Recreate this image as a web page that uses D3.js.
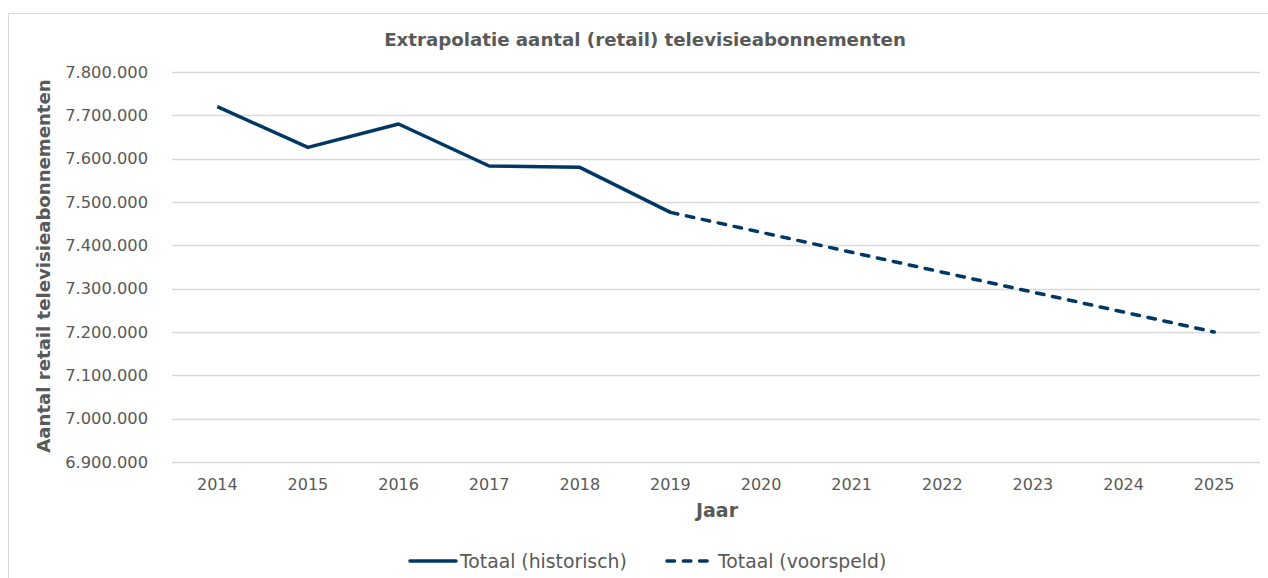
<!DOCTYPE html>
<html>
<head>
<meta charset="utf-8">
<script src="https://cdn.jsdelivr.net/npm/d3@7"></script>
<style>
  html, body { margin: 0; padding: 0; background: #fff; }
  svg { display: block; font-family: "DejaVu Sans", Verdana, sans-serif; }
</style>
</head>
<body>
<svg id="chart" width="1268" height="578"></svg>
<script>
// ---- Data ----
const titleText = "Extrapolatie aantal (retail) televisieabonnementen";
const yAxisTitle = "Aantal retail televisieabonnementen";
const xAxisTitle = "Jaar";
const years = ["2014","2015","2016","2017","2018","2019","2020","2021","2022","2023","2024","2025"];
const historicYears = ["2014","2015","2016","2017","2018","2019"];
const historicValues = [7720000, 7626000, 7680000, 7583000, 7580000, 7476000];
const forecastYears = ["2019","2020","2021","2022","2023","2024","2025"];
const forecastValues = [7476000, 7430000, 7384000, 7338000, 7292000, 7246000, 7200000];
const yTicks = [6900000, 7000000, 7100000, 7200000, 7300000, 7400000, 7500000, 7600000, 7700000, 7800000];
const seriesNames = ["Totaal (historisch)", "Totaal (voorspeld)"];

// ---- Styles ----
const navy = "#003865";
const textGray = "#595959";
const gridGray = "#d9d9d9";

const svg = d3.select("#chart");

// outer border
svg.append("rect")
  .attr("x", 8.5).attr("y", 13.5)
  .attr("width", 1300).attr("height", 600)
  .attr("fill", "none").attr("stroke", gridGray).attr("stroke-width", 1);

const x = d3.scaleBand().domain(years).range([172, 1259.5]);
const xc = d => x(d) + x.bandwidth() / 2;
const y = d3.scaleLinear().domain([6900000, 7800000]).range([462, 72]);

const nl = d3.formatLocale({decimal: ",", thousands: ".", grouping: [3], currency: ["€", ""]});
const fmt = nl.format(",d");

// gridlines
svg.append("g").selectAll("line").data(yTicks).join("line")
  .attr("x1", 172).attr("x2", 1260)
  .attr("y1", d => Math.round(y(d)) + 0.5).attr("y2", d => Math.round(y(d)) + 0.5)
  .attr("stroke", gridGray).attr("stroke-width", 1.3);

// y tick labels
svg.append("g").selectAll("text").data(yTicks).join("text")
  .attr("x", 148).attr("y", d => y(d))
  .attr("dy", "0.35em")
  .attr("text-anchor", "end")
  .attr("font-size", 16.3).attr("fill", textGray)
  .text(d => fmt(d));

// x tick labels
svg.append("g").selectAll("text").data(years).join("text")
  .attr("x", d => xc(d)).attr("y", 490)
  .attr("text-anchor", "middle")
  .attr("font-size", 16).attr("fill", textGray)
  .text(d => d);

// title
svg.append("text")
  .attr("x", 645).attr("y", 46)
  .attr("text-anchor", "middle")
  .attr("font-size", 18.2).attr("font-weight", "bold").attr("fill", textGray)
  .text(titleText);

// axis titles
svg.append("text")
  .attr("transform", "translate(50,266) rotate(-90)")
  .attr("text-anchor", "middle")
  .attr("font-size", 18.1).attr("font-weight", "bold").attr("fill", textGray)
  .text(yAxisTitle);

svg.append("text")
  .attr("x", 717).attr("y", 517)
  .attr("text-anchor", "middle")
  .attr("font-size", 19).attr("font-weight", "bold").attr("fill", textGray)
  .text(xAxisTitle);

// lines
const line = d3.line().x(d => xc(d[0])).y(d => y(d[1]));

svg.append("path")
  .datum(d3.zip(forecastYears, forecastValues))
  .attr("d", line)
  .attr("fill", "none").attr("stroke", navy).attr("stroke-width", 3.5)
  .attr("stroke-linecap", "round")
  .attr("stroke-dasharray", "7.5,8.8");

svg.append("path")
  .datum(d3.zip(historicYears, historicValues))
  .attr("d", line)
  .attr("fill", "none").attr("stroke", navy).attr("stroke-width", 3.5)
  .attr("stroke-linejoin", "round");

// legend
const legY = 561;
const lg = svg.append("g");
lg.append("line").attr("x1", 410).attr("x2", 456).attr("y1", legY).attr("y2", legY)
  .attr("stroke", navy).attr("stroke-width", 3.5).attr("stroke-linecap", "round");
lg.append("text").attr("x", 460).attr("y", legY).attr("dy", "0.35em")
  .attr("font-size", 18.8).attr("fill", textGray).text(seriesNames[0]);
lg.append("line").attr("x1", 667).attr("x2", 708).attr("y1", legY).attr("y2", legY)
  .attr("stroke", navy).attr("stroke-width", 3.5).attr("stroke-linecap", "round")
  .attr("stroke-dasharray", "7.5,8.8");
lg.append("text").attr("x", 718).attr("y", legY).attr("dy", "0.35em")
  .attr("font-size", 18.8).attr("fill", textGray).text(seriesNames[1]);
</script>
</body>
</html>
